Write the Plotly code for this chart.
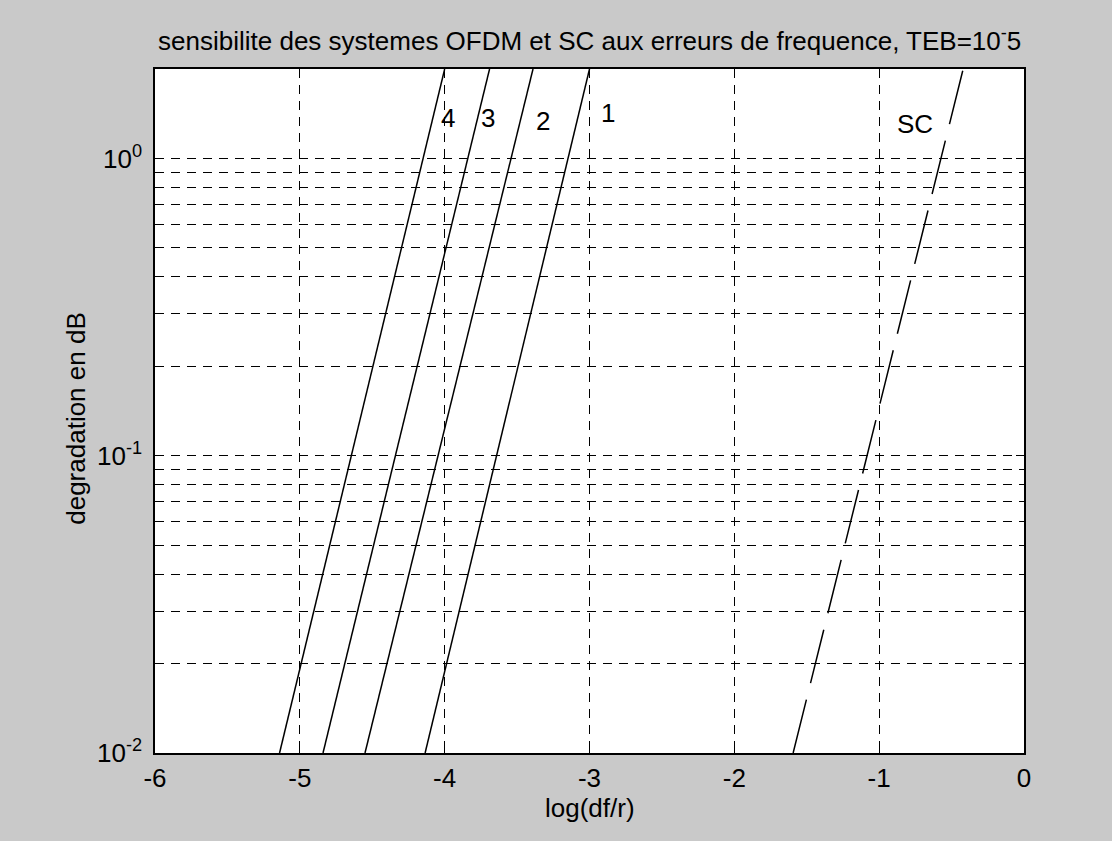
import math
import plotly.graph_objects as go

# ---- data ----
ofdm_names = ["1", "2", "3", "4"]
ofdm_x = {
    "1": [-4.135, -3.00],
    "2": [-4.55, -3.39],
    "3": [-4.84, -3.69],
    "4": [-5.14, -4.00],
}
ofdm_y = [0.01, 2.0]
sc_x = [-1.594, -0.42]
sc_y = [0.01, 2.0]

label_text = ["4", "3", "2", "1", "SC"]
label_x = [-3.977, -3.70, -3.32, -2.87, -0.75]
label_y = [1.37, 1.37, 1.34, 1.42, 1.31]

x_ticks = [-6, -5, -4, -3, -2, -1, 0]
y_major = [0.01, 0.1, 1]
y_major_text = ["10<sup>-2</sup>", "10<sup>-1</sup>", "10<sup>0</sup>"]
y_minor = [0.02, 0.03, 0.04, 0.05, 0.06, 0.07, 0.08, 0.09,
           0.2, 0.3, 0.4, 0.5, 0.6, 0.7, 0.8, 0.9, 2]

FONT = "Liberation Sans, Arial, sans-serif"
FS = 26
BG = "#c9c9c9"
GRID_DASH = "9px,7px"

fig = go.Figure()
for n in ofdm_names:
    fig.add_trace(go.Scatter(x=ofdm_x[n], y=ofdm_y, mode="lines",
                             line=dict(color="black", width=1.5),
                             showlegend=False, hoverinfo="skip"))
fig.add_trace(go.Scatter(x=sc_x, y=sc_y, mode="lines",
                         line=dict(color="black", width=1.5, dash="55px,17px"),
                         showlegend=False, hoverinfo="skip"))

for t, x, y in zip(label_text, label_x, label_y):
    fig.add_annotation(x=x, y=math.log10(y), yref="y", xref="x", text=t, showarrow=False,
                       font=dict(family=FONT, size=FS, color="black"),
                       xanchor="center", yanchor="middle")

# axis labels
fig.add_annotation(xref="paper", yref="paper", x=0.5, y=-0.081,
                   text="log(df/r)", showarrow=False,
                   font=dict(family=FONT, size=FS, color="black"),
                   xanchor="center", yanchor="middle")
fig.add_annotation(xref="paper", yref="paper", x=-0.091, y=0.49,
                   text="degradation en dB", showarrow=False, textangle=-90,
                   font=dict(family=FONT, size=FS, color="black"),
                   xanchor="center", yanchor="middle")

fig.update_layout(
    width=1112, height=841,
    margin=dict(l=155, r=88, t=69, b=88),
    paper_bgcolor=BG, plot_bgcolor="white",
    font=dict(family=FONT, size=FS, color="black"),
    title=dict(text="sensibilite des systemes OFDM et SC aux erreurs de frequence, TEB=10<sup>-</sup>5",
               x=0.5303, xanchor="center", y=1 - 41 / 841, yanchor="middle",
               yref="container", xref="container",
               font=dict(family=FONT, size=FS, color="black")),
)
fig.update_xaxes(range=[-6, 0], tickvals=x_ticks, ticktext=[str(v) for v in x_ticks],
                 showgrid=True, gridcolor="black", griddash=GRID_DASH, gridwidth=1,
                 zeroline=False, showline=True, linecolor="black", linewidth=1.5,
                 mirror="ticks", ticks="inside", ticklen=8, tickcolor="black",
                 tickfont=dict(family=FONT, size=FS), ticklabelstandoff=1)
fig.update_yaxes(type="log", range=[-2, 0.30103], tickvals=y_major, ticktext=y_major_text,
                 showgrid=True, gridcolor="black", griddash=GRID_DASH, gridwidth=1,
                 zeroline=False, showline=True, linecolor="black", linewidth=1.5,
                 mirror="ticks", ticks="inside", ticklen=8, tickcolor="black",
                 tickfont=dict(family=FONT, size=FS), ticklabelstandoff=6,
                 minor=dict(tickvals=y_minor, showgrid=True, gridcolor="black",
                            griddash=GRID_DASH, gridwidth=1, ticks="inside",
                            ticklen=4, tickcolor="black"))

fig.write_html("out.html")
